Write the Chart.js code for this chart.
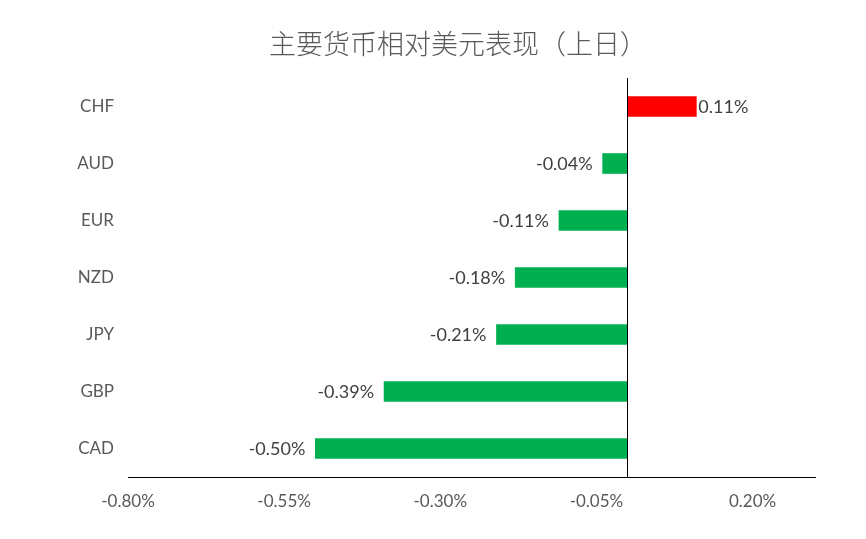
<!DOCTYPE html>
<html>
<head>
<meta charset="utf-8">
<script src="https://cdn.jsdelivr.net/npm/chart.js@4.4.1/dist/chart.umd.min.js"></script>
<style>
  html, body { margin: 0; padding: 0; background: #fff; }
  #wrap { width: 866px; height: 539px; position: relative; }
</style>
</head>
<body>
<div id="wrap"><canvas id="c" width="866" height="539"></canvas></div>
<script>
const titleText = '主要货币相对美元表现（上日）';
const categories = ['CHF', 'AUD', 'EUR', 'NZD', 'JPY', 'GBP', 'CAD'];
const values = [0.11, -0.04, -0.11, -0.18, -0.21, -0.39, -0.50];
const tickValues = [-0.80, -0.55, -0.30, -0.05, 0.20];
const axisMin = -0.80;
const axisMax = 0.30;

const POS = '#FF0000', NEG = '#00B050';
const TXT = '#595959';
const FONT = 'Lato, "Open Sans", "Liberation Sans", sans-serif';

const extras = {
  id: 'extras',
  afterDatasetsDraw(chart) {
    const ctx = chart.ctx;
    const xs = chart.scales.x;
    const area = chart.chartArea;
    // zero line
    const x0 = Math.round(xs.getPixelForValue(0)) - 0.5;
    ctx.save();
    ctx.strokeStyle = '#000';
    ctx.lineWidth = 1;
    ctx.beginPath();
    ctx.moveTo(x0, area.top);
    ctx.lineTo(x0, area.bottom);
    ctx.stroke();
    // value labels
    ctx.font = '18px ' + FONT;
    ctx.fillStyle = '#404040';
    ctx.textBaseline = 'middle';
    const meta = chart.getDatasetMeta(0);
    meta.data.forEach((bar, i) => {
      const v = values[i];
      const label = v.toFixed(2) + '%';
      if (v >= 0) {
        ctx.textAlign = 'left';
        ctx.fillText(label, bar.x + 2, bar.y + 1);
      } else {
        ctx.textAlign = 'right';
        ctx.fillText(label, bar.x - 10, bar.y + 1);
      }
    });
    // title
    ctx.font = '300 27px "Noto Sans CJK SC", sans-serif';
    ctx.fillStyle = TXT;
    ctx.textAlign = 'center';
    ctx.textBaseline = 'middle';
    ctx.fillText(titleText, 458, 44);
    ctx.restore();
  }
};

new Chart(document.getElementById('c'), {
  type: 'bar',
  data: {
    labels: categories,
    datasets: [{
      data: values,
      backgroundColor: values.map(v => v >= 0 ? POS : NEG),
      barThickness: 20,
      borderWidth: 0
    }]
  },
  options: {
    indexAxis: 'y',
    responsive: false,
    animation: false,
    devicePixelRatio: 1,
    layout: { padding: { top: 78, right: 51, bottom: 0, left: 0 } },
    plugins: { legend: { display: false }, tooltip: { enabled: false }, title: { display: false } },
    scales: {
      x: {
        min: axisMin, max: axisMax,
        afterBuildTicks(scale) { scale.ticks = tickValues.map(v => ({ value: v })); },
        afterFit(scale) { scale.height = 62; },
        grid: { display: false, drawTicks: false },
        border: { display: true, color: '#000', width: 1 },
        ticks: {
          padding: 14,
          color: TXT,
          font: { family: FONT, size: 17 },
          maxRotation: 0,
          callback: v => Number(v).toFixed(2) + '%'
        }
      },
      y: {
        afterFit(scale) { scale.width = 128; },
        grid: { display: false, drawTicks: false },
        border: { display: false },
        ticks: {
          padding: 14,
          color: TXT,
          font: { family: FONT, size: 17 }
        }
      }
    }
  },
  plugins: [extras]
});
</script>
</body>
</html>
